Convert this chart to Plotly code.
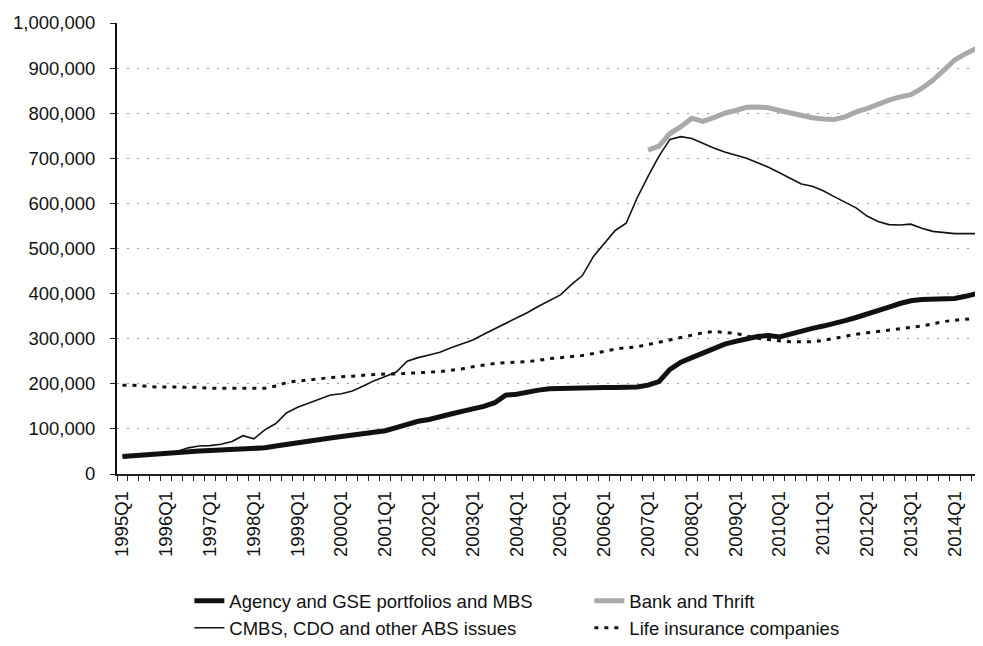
import plotly.graph_objects as go

years = list(range(1995, 2015))
quarters = [f"{y}Q{q}" for y in years for q in range(1, 5)][:79]  # 1995Q1 .. 2014Q3

agency = [39, 41, 43, 45, 47, 49, 50, 51, 52, 53, 54, 55, 57, 58, 62, 66, 69, 72, 76, 80,
          83, 86, 88, 91, 96, 103, 111, 117, 121, 126, 133, 139, 144, 150, 158, 175, 177, 182, 186, 189,
          190, 190, 191, 191, 192, 192, 193, 193, 197, 205, 232, 248, 258, 268, 278, 288, 294, 300, 305, 307,
          304, 310, 317, 323, 328, 333, 340, 347, 354, 362, 370, 378, 384, 387, 388, 388, 389, 394, 400]

bank = [None] * 48 + [718, 727, 755, 770, 789, 782, 790, 800, 806, 813, 814, 812, 806, 800, 796, 790,
                      787, 786, 792, 803, 810, 820, 829, 836, 841, 855, 873, 895, 918, 932, 944]

cmbs = [40, 42, 44, 46, 48, 50, 58, 62, 63, 66, 72, 85, 78, 98, 112, 136, 148, 157, 166, 175,
        178, 184, 195, 207, 216, 226, 250, 258, 264, 270, 280, 289, 297, 310, 322, 335, 346, 358, 372, 385,
        397, 420, 440, 482, 512, 540, 556, 612, 660, 705, 742, 748, 744, 733, 723, 714, 707, 700, 690, 680,
        668, 655, 643, 638, 628, 615, 603, 590, 572, 560, 553, 552, 554, 545, 538, 535, 533, 533, 533]

life = [197, 197, 195, 193, 193, 193, 193, 192, 190, 190, 190, 189, 189, 190, 195, 203, 206, 208, 211, 214,
        215, 217, 219, 221, 222, 222, 223, 224, 225, 227, 230, 233, 238, 242, 245, 247, 248, 249, 252, 256,
        258, 260, 263, 267, 272, 277, 280, 282, 287, 292, 297, 303, 308, 313, 316, 314, 312, 306, 301, 298,
        295, 293, 293, 293, 296, 301, 306, 310, 313, 316, 319, 322, 324, 328, 333, 338, 341, 343, 345]

def scale(vals):
    return [None if v is None else v * 1000 for v in vals]

names = ["Agency and GSE portfolios and MBS", "Bank and Thrift",
         "CMBS, CDO and other ABS issues", "Life insurance companies"]

fig = go.Figure()
fig.add_trace(go.Scatter(x=quarters, y=scale(agency), mode="lines", name=names[0],
                         line=dict(color="#111111", width=5)))
fig.add_trace(go.Scatter(x=quarters, y=scale(bank), mode="lines", name=names[1],
                         line=dict(color="#a9a9a9", width=5)))
fig.add_trace(go.Scatter(x=quarters, y=scale(cmbs), mode="lines", name=names[2],
                         line=dict(color="#111111", width=1.6)))
fig.add_trace(go.Scatter(x=quarters, y=scale(life), mode="lines", name=names[3],
                         line=dict(color="#111111", width=3, dash="4px,6px")))

ticktext = [q if q.endswith("Q1") else "" for q in quarters]

fig.update_layout(
    width=975, height=638,
    margin=dict(l=109, r=1, t=15, b=172, autoexpand=False),
    paper_bgcolor="white", plot_bgcolor="white",
    font=dict(family="Liberation Sans, Arial, sans-serif", size=18, color="#111111"),
    showlegend=True,
    legend=dict(orientation="h", xref="container", x=0.186, xanchor="left",
                yref="container", y=0.1, yanchor="top",
                entrywidth=355, font=dict(size=18.5), tracegroupgap=0,
                bgcolor="rgba(0,0,0,0)"),
)
fig.update_xaxes(
    type="category", categoryorder="array", categoryarray=quarters,
    range=[-0.5, len(quarters) - 0.5],
    tickmode="array", tickvals=quarters, ticktext=ticktext,
    tickson="boundaries", ticks="outside", ticklen=5, tickcolor="#222",
    tickangle=-90, tickfont=dict(size=18.5), ticklabelstandoff=8,
    showline=True, linecolor="#222", linewidth=1.5,
    showgrid=False, zeroline=False, automargin=False,
)
fig.update_yaxes(
    range=[0, 1000000], dtick=100000, tickformat=",",
    ticks="outside", ticklen=5, tickcolor="#222",
    showline=True, linecolor="#111", linewidth=2,
    showgrid=True, gridcolor="#9a9a9a", gridwidth=1, griddash="2px,8px",
    zeroline=False, tickfont=dict(size=18.5), ticklabelstandoff=11, automargin=False,
)

fig.write_html("out.html")
